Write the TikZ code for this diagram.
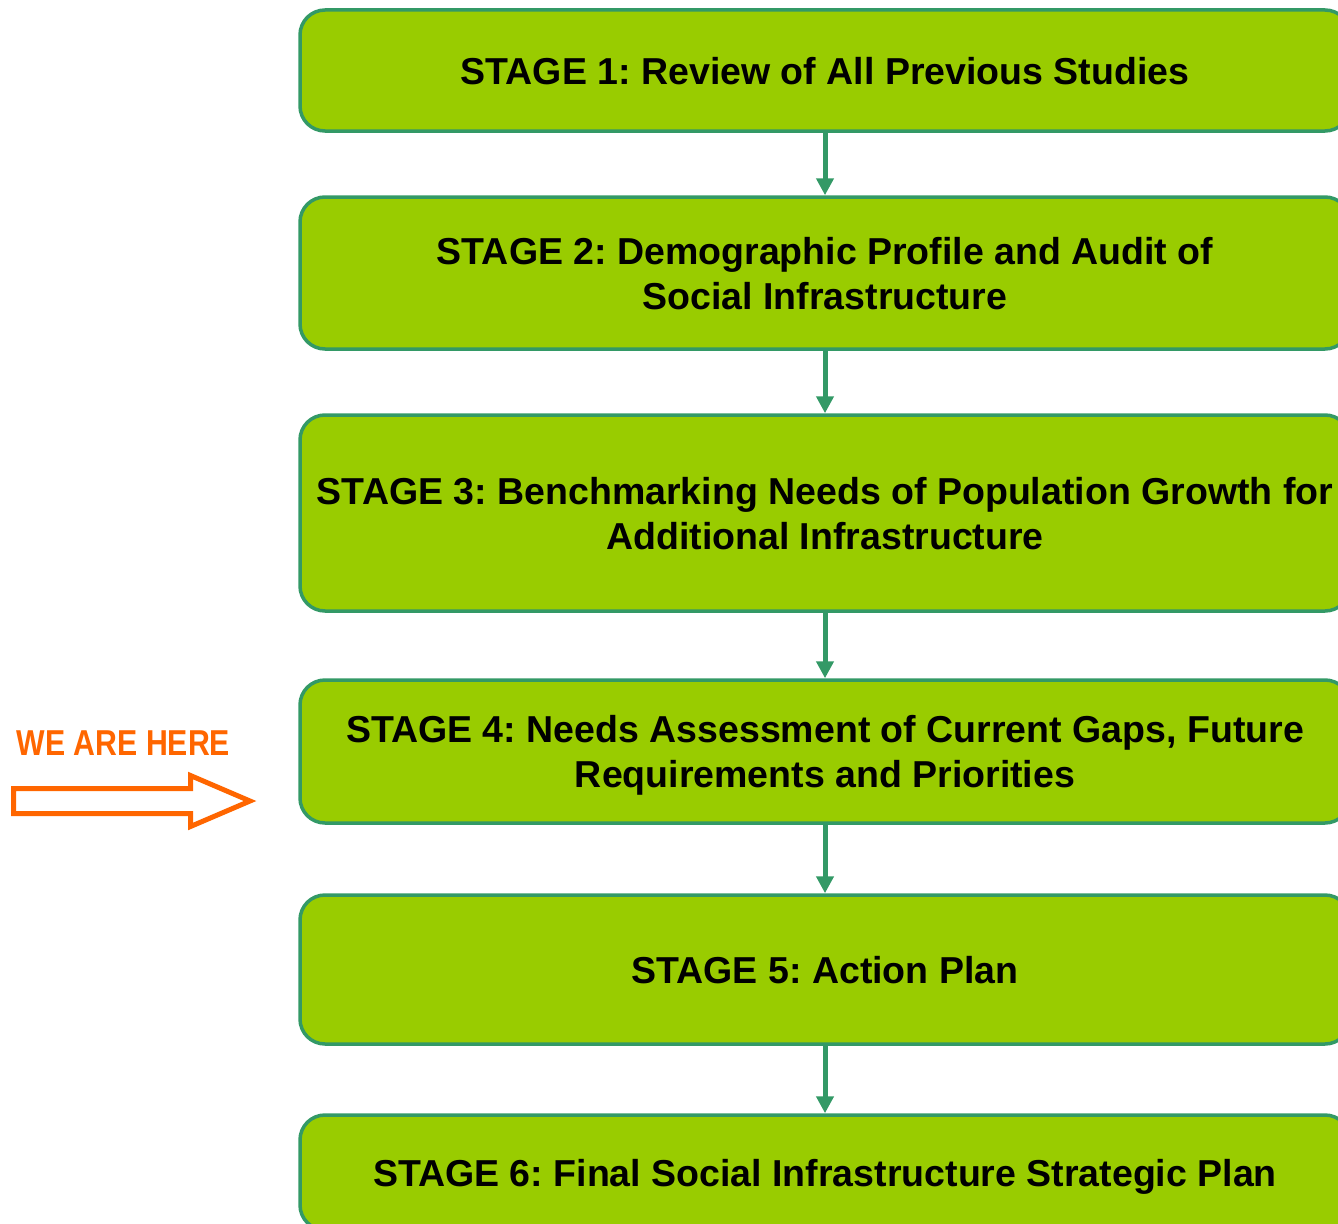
\documentclass[tikz,border=0pt]{standalone}
\usepackage{fontspec}
\usepackage{graphicx}
\setmainfont{Liberation Sans}
\usetikzlibrary{positioning}
\usetikzlibrary{arrows.meta}
\definecolor{stagefill}{HTML}{99CC00}
\definecolor{stageline}{HTML}{339966}
\definecolor{hereorange}{HTML}{FF6600}
\frenchspacing

\begin{document}
\begin{tikzpicture}[x=1pt,y=-1pt,
    stage/.style={draw=stageline,line width=3.5pt,fill=stagefill,
        rounded corners=25pt,minimum width=1050pt,align=center,
        font=\fontsize{37.5}{45}\selectfont\bfseries,inner sep=0pt,
        text depth=0pt},
    flow/.style={draw=stageline,line width=5pt,
        -{Triangle[width=17pt,length=17pt]}}]

    %page size, boxes run past the right edge
    \useasboundingbox (0,0) rectangle (1338,1223);
    \clip (0,0) rectangle (1338,1223);

    %stages
    \node[stage,minimum height=121pt] (s1) at (825,70.5)
        {STAGE 1: Review of All Previous Studies};
    \node[stage,minimum height=152pt] (s2) at (825,273)
        {STAGE 2: Demographic Profile and Audit of\\Social Infrastructure};
    \node[stage,minimum height=196pt] (s3) at (825,513)
        {STAGE 3: Benchmarking Needs of Population Growth for\\Additional Infrastructure};
    \node[stage,minimum height=143pt] (s4) at (825,751.5)
        {STAGE 4: Needs Assessment of Current Gaps, Future\\Requirements and Priorities};
    \node[stage,minimum height=149pt] (s5) at (825,969.5)
        {STAGE 5: Action Plan};
    \node[stage,minimum height=115pt] (s6) at (825,1172.5)
        {STAGE 6: Final Social Infrastructure Strategic Plan};

    %connectors
    \foreach \a/\b in {s1/s2,s2/s3,s3/s4,s4/s5,s5/s6}
        \draw[flow] (\a.south) -- (\b.north);

    %we are here marker
    \node[text=hereorange,font=\fontsize{36}{36}\selectfont\bfseries,
        inner sep=0pt] (here) at (123.5,743)
        {\scalebox{0.84}[1]{WE ARE HERE}};
    \draw[hereorange,line width=5pt,line join=miter]
        (13.5,788.5) -- (190.5,788.5) -- (190.5,775.5) -- (250,801)
        -- (190.5,826.5) -- (190.5,813.5) -- (13.5,813.5) -- cycle;

\end{tikzpicture}
\end{document}
